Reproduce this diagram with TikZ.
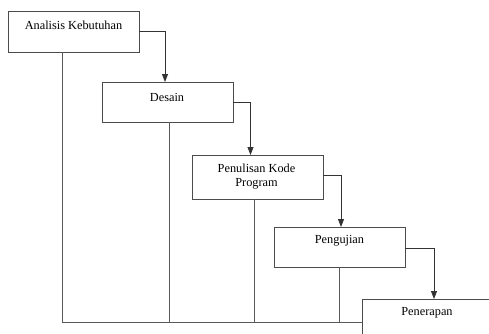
\documentclass[tikz,border=0pt]{standalone}
\usepackage{fontspec}
\setmainfont{Liberation Serif}
\usetikzlibrary{arrows.meta,calc}
\tikzset{
  phase/.style={draw=black!70, line width=0.8pt, fill=white, inner sep=0pt, outer sep=0pt},
  caption/.style={font=\fontsize{12.3}{13.5}\selectfont, align=center, inner sep=0pt},
  flow/.style={draw=black!80, line width=0.8pt, -{Triangle[width=6pt,length=8pt]}},
  tie/.style={draw=black!65, line width=0.8pt}
}
\begin{document}
\begin{tikzpicture}[x=1pt,y=-1pt]
  \useasboundingbox (0,0) rectangle (489,333);
  \clip (0,0) rectangle (489,333);

  % phase boxes
  \node[phase, minimum width=131pt, minimum height=41pt] (ana) at (73.5,31.5) {};
  \node[phase, minimum width=131pt, minimum height=40pt] (des) at (167.5,102) {};
  \node[phase, minimum width=131pt, minimum height=44pt] (pen) at (257.5,177) {};
  \node[phase, minimum width=131pt, minimum height=40pt] (uji) at (339.5,247) {};
  \node[phase, minimum width=130pt, minimum height=40pt] (ter) at (427,319) {};

  % phase titles
  \node[caption] (anat) at (73.5,25.5) {Analisis Kebutuhan};
  \node[caption] (dest) at (167,97) {Desain};
  \node[caption] (pent) at (256.5,176.5) {Penulisan Kode\\Program};
  \node[caption] (ujit) at (339.5,240.5) {Pengujian};
  \node[caption] (tert) at (427,313) {Penerapan};

  % cascade arrows
  \draw[flow] (ana.east) -| ([xshift=-2.5pt]des.north);
  \draw[flow] (des.east) -| ([xshift=-7pt]pen.north);
  \draw[flow] ([yshift=2pt]pen.east) -| ([xshift=1.5pt]uji.north);
  \draw[flow] ([yshift=-1pt]uji.east) -| ([xshift=7pt]ter.north);

  % feedback lines into the common base line
  \coordinate (base) at (62,322);
  \draw[tie] ([xshift=-11.5pt]ana.south) -- (base) -- ($(ter.north west)+(0,23)$);
  \draw[tie] ([xshift=1.5pt]des.south) -- ([xshift=1.5pt]des.south |- base);
  \draw[tie] ([xshift=-3.5pt]pen.south) -- ([xshift=-3.5pt]pen.south |- base);
  \draw[tie] (uji.south) -- (uji.south |- base);
\end{tikzpicture}
\end{document}
